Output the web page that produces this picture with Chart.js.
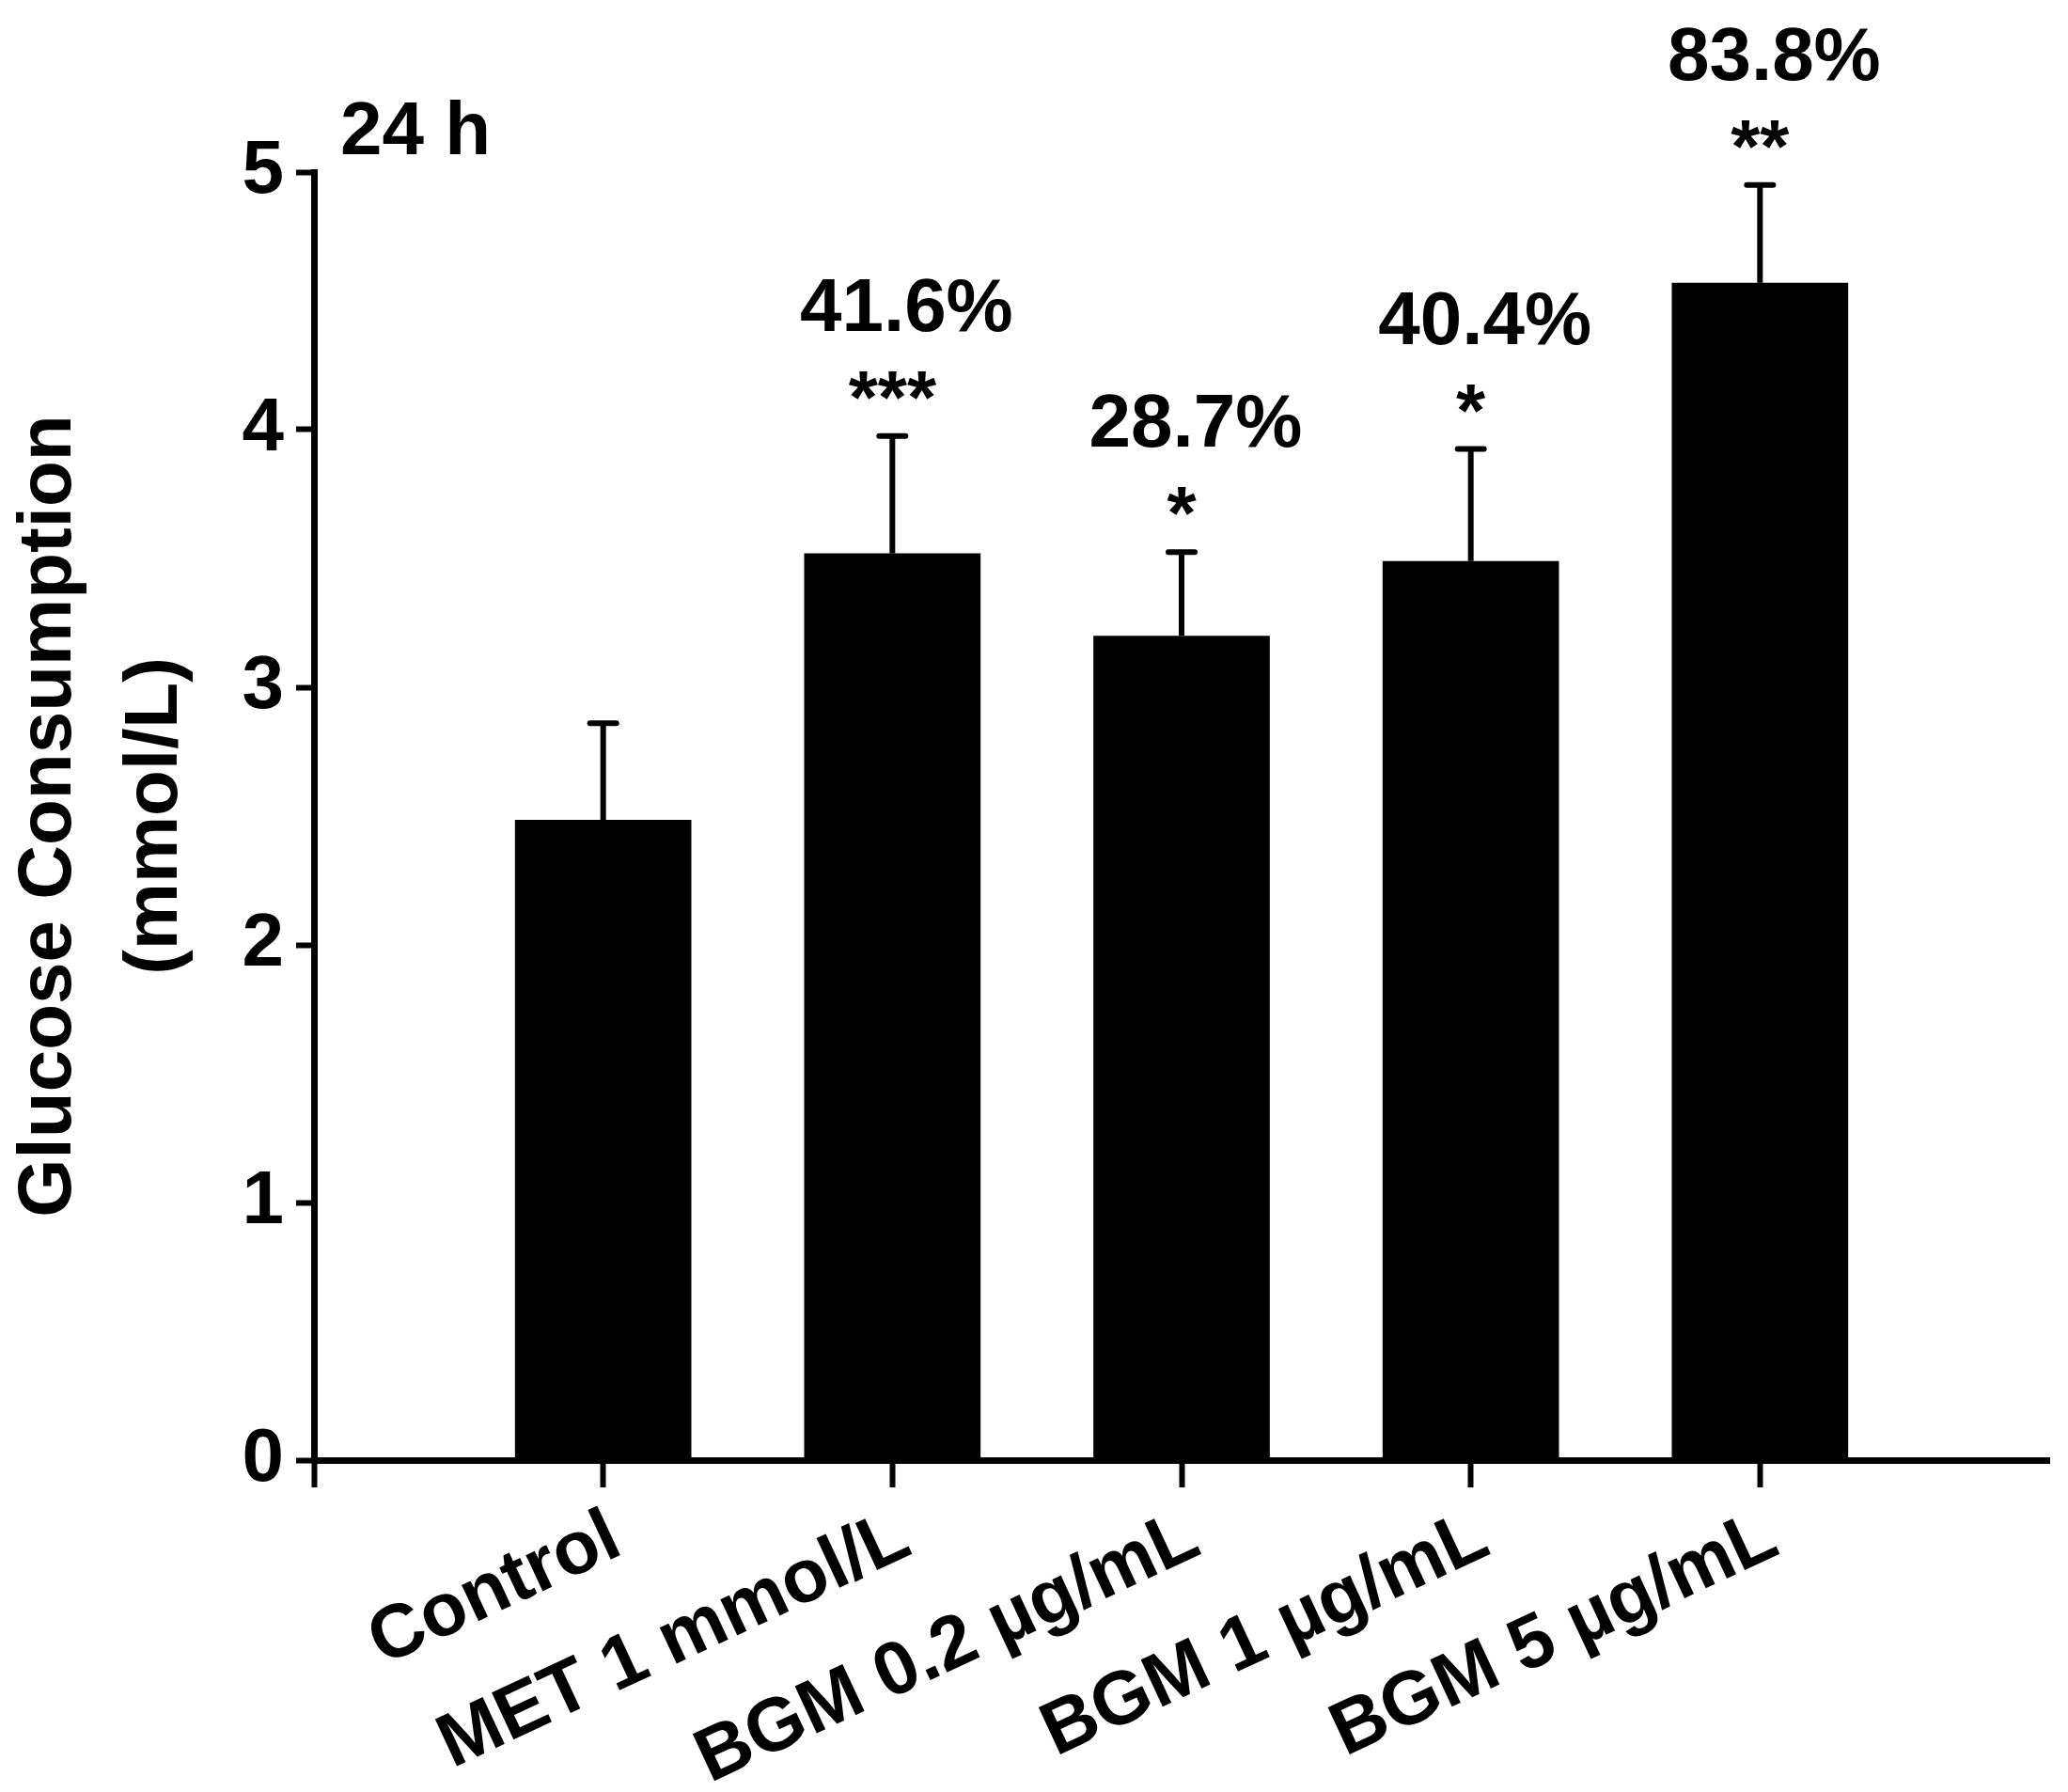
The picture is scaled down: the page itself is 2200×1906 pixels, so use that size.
<!DOCTYPE html>
<html><head><meta charset="utf-8">
<script src="https://cdn.jsdelivr.net/npm/chart.js@4"></script>
<style>html,body{margin:0;padding:0;background:#fff}canvas{display:block}</style>
</head><body>
<canvas id="c" width="2200" height="1906"></canvas>
<script>
// ---- data ----
const categories = ['Control', 'MET 1 mmol/L', 'BGM 0.2 µg/mL', 'BGM 1 µg/mL', 'BGM 5 µg/mL'];
const meanValues = [2.485, 3.52, 3.20, 3.49, 4.57];
const errorUpper = [2.86, 3.975, 3.525, 3.925, 4.95];
const percentLabels = ['', '41.6%', '28.7%', '40.4%', '83.8%'];
const significance = ['', '***', '*', '*', '**'];
const yTickValues = [0, 1, 2, 3, 4, 5];
const panelLabel = '24 h';
const yTitle = ['Glucose Consumption', '(mmol/L)'];

// category axis with an empty slot at each end
const axisLabels = [''].concat(categories, ['']);
const barData = [null].concat(meanValues, [null]);
const errData = [null].concat(errorUpper, [null]);
const pctData = [''].concat(percentLabels, ['']);
const sigData = [''].concat(significance, ['']);

const FONT = '"Liberation Sans", Arial, sans-serif';

const annot = {
  id: 'annot',
  afterDatasetsDraw(chart) {
    const ctx = chart.ctx, ys = chart.scales.y, meta = chart.getDatasetMeta(0);
    ctx.save();
    ctx.fillStyle = '#000'; ctx.strokeStyle = '#000';
    meta.data.forEach((bar, i) => {
      if (barData[i] == null) return;
      const x = bar.x, top = ys.getPixelForValue(errData[i]);
      ctx.lineWidth = 6; ctx.lineCap = 'butt';
      ctx.beginPath(); ctx.moveTo(x, bar.y); ctx.lineTo(x, top); ctx.stroke();
      ctx.lineCap = 'round';
      ctx.beginPath(); ctx.moveTo(x - 14, top); ctx.lineTo(x + 14, top); ctx.stroke();
      ctx.textAlign = 'center'; ctx.textBaseline = 'alphabetic';
      ctx.font = 'bold 80px ' + FONT;
      if (sigData[i]) ctx.fillText(sigData[i], x, top - 14);
      if (pctData[i]) ctx.fillText(pctData[i], x + 15, top - 112);
    });
    ctx.font = 'bold 80px ' + FONT; ctx.textAlign = 'left'; ctx.textBaseline = 'alphabetic';
    ctx.fillText(panelLabel, chart.chartArea.left + 28, chart.chartArea.top - 19);
    ctx.restore();
  }
};

new Chart(document.getElementById('c'), {
  type: 'bar',
  data: {
    labels: axisLabels,
    datasets: [{
      data: barData,
      backgroundColor: '#000',
      borderWidth: 0,
      categoryPercentage: 1,
      barPercentage: 0.61
    }]
  },
  options: {
    responsive: false,
    devicePixelRatio: 1,
    animation: false,
    layout: { padding: { left: 0, top: 183, right: 20, bottom: 0 } },
    plugins: { legend: { display: false }, tooltip: { enabled: false } },
    scales: {
      x: {
        type: 'category',
        offset: false,
        border: { display: true, width: 7, color: '#000' },
        grid: {
          display: true, offset: false, drawOnChartArea: false, drawTicks: true,
          tickLength: 29, tickWidth: 6,
          tickColor: (c) => (c.index === axisLabels.length - 1 ? 'rgba(0,0,0,0)' : '#000')
        },
        ticks: {
          autoSkip: false, minRotation: 25, maxRotation: 25, padding: 6, labelOffset: 14,
          color: '#000', font: { family: FONT, size: 80, weight: 'bold' }
        },
        afterFit(s) { s.height = 353; s.paddingLeft = 0; s.paddingRight = 0; }
      },
      y: {
        min: 0, max: 5,
        border: { display: true, width: 7, color: '#000' },
        grid: { display: true, drawOnChartArea: false, drawTicks: true, tickLength: 19, tickWidth: 6, tickColor: '#000' },
        afterBuildTicks(s) { s.ticks = yTickValues.map(v => ({ value: v })); },
        ticks: { padding: 13, color: '#000', font: { family: FONT, size: 80, weight: 'bold' } },
        title: {
          display: true, text: yTitle, color: '#000',
          font: { family: FONT, size: 80, weight: 'bold', lineHeight: 1.42 },
          padding: { top: -4, bottom: 0 }
        },
        afterFit(s) { s.width = 334; }
      }
    }
  },
  plugins: [annot]
});
</script>
</body></html>
